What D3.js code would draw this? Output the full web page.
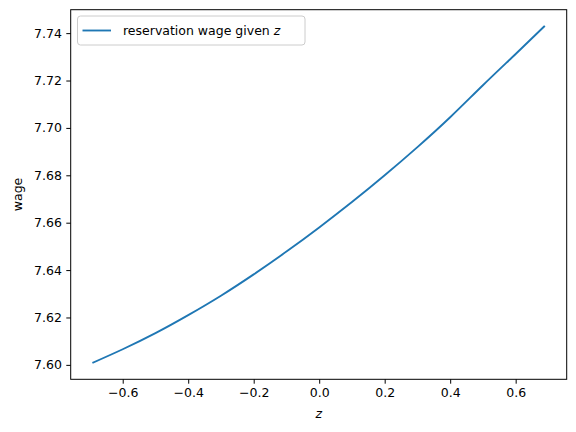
<!DOCTYPE html>
<html lang="en">
<head>
  <meta charset="utf-8">
  <title>reservation wage</title>
  <script src="https://d3js.org/d3.v7.min.js"></script>
  <style>
    body { margin: 0; background: #fff; }
    text { font-family: "DejaVu Sans", sans-serif; }
  </style>
</head>
<body>
  <script type="text/javascript">
  // values
  var zGrid = [-0.69, -0.6, -0.5, -0.4, -0.3, -0.2, -0.1, 0.0, 0.1, 0.2, 0.3, 0.4, 0.5, 0.6, 0.687];
  var wage  = [7.6010, 7.6066, 7.6134, 7.6210, 7.6292, 7.6382, 7.6478, 7.6580,
               7.6687, 7.6800, 7.6919, 7.7045, 7.7180, 7.7312, 7.7428];
  var xTicks = [-0.6, -0.4, -0.2, 0.0, 0.2, 0.4, 0.6];
  var yTicks = [7.60, 7.62, 7.64, 7.66, 7.68, 7.70, 7.72, 7.74];
  var seriesLabel = "reservation wage given ";

  var w = 576, h = 432;
  // plot box (window.top is reserved, so use other names)
  var pLeft = 70.7, pRight = 566.7, pTop = 9.7, pBottom = 379.3;

  var svg = d3.select("body").append("svg")
    .attr("width", w)
    .attr("height", h);

  // matplotlib style 5% margins
  var xr = d3.extent(zGrid), yr = d3.extent(wage);
  var xm = (xr[1] - xr[0]) * 0.05, ym = (yr[1] - yr[0]) * 0.05;

  var x = d3.scaleLinear().domain([xr[0] - xm, xr[1] + xm]).range([pLeft, pRight]);
  var y = d3.scaleLinear().domain([yr[0] - ym, yr[1] + ym]).range([pBottom, pTop]);

  function minus(s) { return s.replace("-", "\u2212"); }

  var xAxis = d3.axisBottom(x).tickValues(xTicks).tickSize(4.4).tickPadding(4.4)
    .tickFormat(function(d){ return minus(d3.format(".1f")(d)); });
  var yAxis = d3.axisLeft(y).tickValues(yTicks).tickSize(4.4).tickPadding(4.4)
    .tickFormat(d3.format(".2f"));

  var gx = svg.append("g").attr("transform", "translate(0," + pBottom + ")").call(xAxis);
  var gy = svg.append("g").attr("transform", "translate(" + pLeft + ",0)").call(yAxis);

  [gx, gy].forEach(function(g){
    g.select(".domain").remove();
    g.selectAll(".tick line").attr("stroke", "#000").attr("stroke-width", 1);
    g.selectAll(".tick text").attr("fill", "#000").attr("font-size", "12.5px");
  });

  // curve
  var line = d3.line()
    .x(function(d, i){ return x(zGrid[i]); })
    .y(function(d){ return y(d); })
    .curve(d3.curveNatural);

  svg.append("path")
    .datum(wage)
    .attr("d", line)
    .attr("fill", "none")
    .attr("stroke", "#1f77b4")
    .attr("stroke-width", 1.875)
    .attr("stroke-linecap", "square");

  // frame
  svg.append("rect")
    .attr("x", pLeft).attr("y", pTop)
    .attr("width", pRight - pLeft).attr("height", pBottom - pTop)
    .attr("fill", "none").attr("stroke", "#000").attr("stroke-width", 1);

  // axis labels
  svg.append("text")
    .attr("x", (pLeft + pRight) / 2).attr("y", 418)
    .attr("text-anchor", "middle")
    .attr("font-size", "12.5px")
    .attr("font-style", "italic")
    .text("z");

  svg.append("text")
    .attr("transform", "translate(22," + ((pTop + pBottom) / 2) + ") rotate(-90)")
    .attr("text-anchor", "middle")
    .attr("font-size", "12.5px")
    .text("wage");

  // legend
  var lg = svg.append("g");
  lg.append("rect")
    .attr("x", 77.5).attr("y", 16)
    .attr("width", 227.5).attr("height", 29)
    .attr("rx", 3)
    .attr("fill", "#fff").attr("fill-opacity", 0.8)
    .attr("stroke", "#cccccc").attr("stroke-width", 1);
  lg.append("line")
    .attr("x1", 82.5).attr("x2", 111)
    .attr("y1", 30.5).attr("y2", 30.5)
    .attr("stroke", "#1f77b4").attr("stroke-width", 1.875);
  var lt = lg.append("text")
    .attr("x", 123).attr("y", 35)
    .attr("font-size", "12.5px");
  lt.append("tspan").text(seriesLabel);
  lt.append("tspan").attr("font-style", "italic").text("z");
  </script>
</body>
</html>
